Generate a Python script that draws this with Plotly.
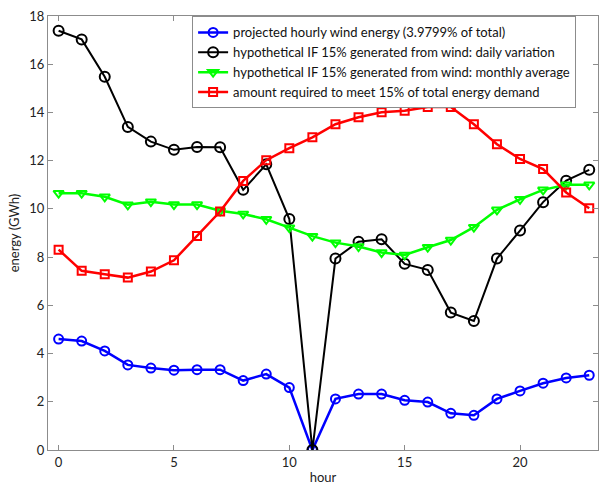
import plotly.graph_objects as go

hours = list(range(24))
blue = [4.60, 4.52, 4.11, 3.53, 3.40, 3.31, 3.33, 3.33, 2.88, 3.15, 2.59, 0.0,
        2.12, 2.32, 2.32, 2.06, 1.99, 1.52, 1.44, 2.12, 2.45, 2.77, 2.99, 3.10]
black = [17.39, 17.03, 15.48, 13.40, 12.79, 12.45, 12.57, 12.56, 10.79, 11.85, 9.58, 0.0,
         7.94, 8.64, 8.74, 7.72, 7.47, 5.70, 5.35, 7.94, 9.10, 10.28, 11.17, 11.62]
green = [10.65, 10.65, 10.50, 10.17, 10.30, 10.18, 10.18, 9.92, 9.79, 9.57, 9.22, 8.87,
         8.60, 8.44, 8.19, 8.09, 8.41, 8.71, 9.24, 9.96, 10.40, 10.79, 11.00, 11.00]
red = [8.31, 7.43, 7.29, 7.15, 7.40, 7.87, 8.88, 9.89, 11.16, 12.02, 12.52, 12.97,
       13.51, 13.80, 14.01, 14.07, 14.23, 14.23, 13.51, 12.68, 12.07, 11.65, 10.68, 10.03]

names = ["projected hourly wind energy (3.9799% of total)",
         "hypothetical IF 15% generated from wind: daily variation",
         "hypothetical IF 15% generated from wind: monthly average",
         "amount required to meet 15% of total energy demand"]

fig = go.Figure()
fig.add_trace(go.Scatter(x=hours, y=blue, name=names[0], mode="lines+markers",
                         line=dict(color="#0000ff", width=2.5),
                         marker=dict(symbol="circle-open", size=9, color="#0000ff", line=dict(width=2))))
fig.add_trace(go.Scatter(x=hours, y=black, name=names[1], mode="lines+markers",
                         line=dict(color="#000000", width=2),
                         marker=dict(symbol="circle-open", size=10, color="#000000", line=dict(width=2))))
fig.add_trace(go.Scatter(x=hours, y=green, name=names[2], mode="lines+markers",
                         line=dict(color="#00ff00", width=2.5),
                         marker=dict(symbol="triangle-down-open", size=9, color="#00ff00", line=dict(width=2))))
fig.add_trace(go.Scatter(x=hours, y=red, name=names[3], mode="lines+markers",
                         line=dict(color="#ff0000", width=2.5),
                         marker=dict(symbol="square-open", size=8, color="#ff0000", line=dict(width=2))))

axis_common = dict(showgrid=False, zeroline=False, showline=True, linecolor="#8c8c8c",
                   linewidth=1, mirror="ticks", ticks="inside", ticklen=5, tickcolor="#8c8c8c",
                   tickfont=dict(family="Lato", size=13, color="#222222"))

fig.update_xaxes(range=[-0.46, 23.38], tickvals=[0, 5, 10, 15, 20],
                 title=dict(text="hour", font=dict(family="Lato", size=13, color="#222222"), standoff=4),
                 **axis_common)
fig.update_yaxes(range=[0, 18], tickvals=[0, 2, 4, 6, 8, 10, 12, 14, 16, 18],
                 title=dict(text="energy (GWh)", font=dict(family="Lato", size=13, color="#222222"), standoff=6),
                 **axis_common)

fig.update_layout(
    width=600, height=485,
    margin=dict(l=48, r=2, t=16, b=35),
    plot_bgcolor="white", paper_bgcolor="white",
    legend=dict(x=0.262, y=0.999, xanchor="left", yanchor="top",
                bgcolor="white", bordercolor="#8c8c8c", borderwidth=1,
                font=dict(family="Lato", size=13, color="#111111"),
                tracegroupgap=0, itemwidth=30),
    showlegend=True,
)

fig.write_html("out.html", config={"displayModeBar": False},
               post_script="document.body.style.margin='0';document.body.style.overflow='hidden';")
